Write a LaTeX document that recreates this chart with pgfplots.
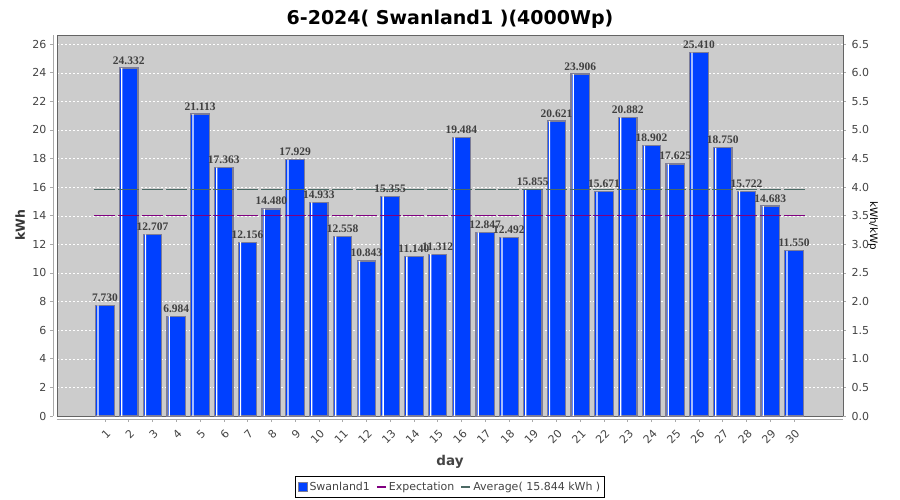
\documentclass[border=0pt]{standalone}
\usepackage{pgfplots}
\pgfplotsset{compat=1.18}
\usepackage{pgfplotstable}
\usepackage{fontspec}
\setmainfont{DejaVu Sans}
\newfontfamily\lblfont{Liberation Serif}

\definecolor{bg}{RGB}{204,204,204}
\definecolor{barblue}{RGB}{0,64,255}
\definecolor{barborder}{RGB}{125,125,150}
\definecolor{avgc}{RGB}{75,105,100}
\definecolor{expc}{RGB}{128,0,128}
\definecolor{tickc}{RGB}{68,68,68}
\definecolor{framec}{RGB}{100,100,100}
\definecolor{axc}{RGB}{170,170,170}
\definecolor{lblc}{RGB}{64,64,64}

\pgfplotstableread{
x y lab exp avg
1 7.730 7.730 14.0 15.844
2 24.332 24.332 14.0 15.844
3 12.707 12.707 14.0 15.844
4 6.984 6.984 14.0 15.844
5 21.113 21.113 14.0 15.844
6 17.363 17.363 14.0 15.844
7 12.156 12.156 14.0 15.844
8 14.480 14.480 14.0 15.844
9 17.929 17.929 14.0 15.844
10 14.933 14.933 14.0 15.844
11 12.558 12.558 14.0 15.844
12 10.843 10.843 14.0 15.844
13 15.355 15.355 14.0 15.844
14 11.140 11.140 14.0 15.844
15 11.312 11.312 14.0 15.844
16 19.484 19.484 14.0 15.844
17 12.847 12.847 14.0 15.844
18 12.492 12.492 14.0 15.844
19 15.855 15.855 14.0 15.844
20 20.621 20.621 14.0 15.844
21 23.906 23.906 14.0 15.844
22 15.671 15.671 14.0 15.844
23 20.882 20.882 14.0 15.844
24 18.902 18.902 14.0 15.844
25 17.625 17.625 14.0 15.844
26 25.410 25.410 14.0 15.844
27 18.750 18.750 14.0 15.844
28 15.722 15.722 14.0 15.844
29 14.683 14.683 14.0 15.844
30 11.550 11.550 14.0 15.844
}\daydata

\begin{document}
\begin{tikzpicture}[x=1pt,y=1pt]
\useasboundingbox (0,0) rectangle (900,500);
\begin{axis}[
  at={(57pt,84pt)}, anchor=south west,
  scale only axis, width=786pt, height=381pt,
  xmin=-1.02, xmax=32.06, ymin=0, ymax=26.64,
  axis background/.style={fill=bg},
  axis line style={framec, line width=0.8pt},
  xtick={1,...,30}, ytick={0,2,...,26},
  xtick pos=left, ytick pos=left,
  tick align=outside, major tick length=3pt,
  tick style={axc, line width=0.6pt},
  every y tick/.append style={xshift=-4pt},
  every x tick/.append style={yshift=-3pt},
  /pgf/number format/assume math mode=true,
  yticklabel style={xshift=-4pt, font=\fontsize{11}{13}\selectfont, text=tickc},
  xticklabel style={xshift=6pt, yshift=-10pt, rotate=45, anchor=east, font=\fontsize{11}{13}\selectfont, text=tickc},
  ymajorgrids, grid style={white, dash pattern=on 2pt off 2pt, line width=0.5pt},
  clip=false,
  title={6-2024( Swanland1 )(4000Wp)},
  title style={at={(axis description cs:0.5,1.026)}, anchor=center, font=\bfseries\fontsize{19}{22}\selectfont},
  xlabel={day},
  every axis x label/.style={at={(axis description cs:0.5,-0.12)}, anchor=center, font=\bfseries\fontsize{13.5}{15}\selectfont, text=tickc},
  ylabel={kWh},
  every axis y label/.style={at={(axis description cs:-0.047,0.5)}, anchor=center, rotate=90, font=\bfseries\fontsize{12.5}{15}\selectfont, text=tickc!80!black},
  legend style={at={(0.5,-0.1575)}, anchor=north, legend columns=-1, draw=black, line width=0.8pt,
    font=\fontsize{11}{13}\selectfont, text=tickc, inner xsep=2pt, inner ysep=3.5pt,
    /tikz/every even column/.append style={column sep=4pt}},
  legend cell align=left,
]
\addlegendimage{legend image code/.code={\draw[fill=barblue,draw=barborder,line width=0.8pt] (0pt,-4.5pt) rectangle (9pt,4.5pt);}}
\addlegendentry{Swanland1}
\addlegendimage{legend image code/.code={\draw[expc,line width=2pt] (0pt,0pt) -- (9pt,0pt);}}
\addlegendentry{Expectation}
\addlegendimage{legend image code/.code={\draw[avgc,line width=2pt] (0pt,0pt) -- (9pt,0pt);}}
\addlegendentry{Average( 15.844 kWh )}

\addplot[forget plot, only marks, mark=-, mark size=10.5pt, draw=expc, mark options={draw=expc, line width=1.3pt}] table[x=x,y=exp]{\daydata};
\addplot[forget plot, only marks, mark=-, mark size=10.5pt, draw=avgc, mark options={draw=avgc, line width=1.3pt}] table[x=x,y=avg]{\daydata};

\addplot[forget plot, ybar, bar width=18.5pt, bar shift=0pt, fill=barblue, draw=barborder, line width=1.2pt,
  nodes near coords, point meta=explicit symbolic,
  every node near coord/.append style={font=\lblfont\bfseries\fontsize{11.5}{12}\selectfont, text=lblc, anchor=base, inner sep=0pt, yshift=4pt}]
  table[x=x,y=y,meta=lab]{\daydata};
\addplot[forget plot, ybar, bar width=1.3pt, bar shift=-7pt, fill=white, draw=none] table[x=x,y=y]{\daydata};

\draw[axc, line width=0.8pt] ([xshift=-4pt]rel axis cs:0,0) -- ([xshift=-4pt]rel axis cs:0,1);
\draw[axc, line width=0.8pt] ([yshift=-3pt]rel axis cs:0,0) -- ([yshift=-3pt]rel axis cs:1,0);
\end{axis}

\begin{axis}[
  at={(57pt,84pt)}, anchor=south west,
  scale only axis, width=786pt, height=381pt,
  xmin=-1.02, xmax=32.06, ymin=0, ymax=6.66,
  axis x line=none, axis y line*=right,
  y axis line style={framec, line width=0.8pt, -},
  ytick={0,0.5,1,1.5,2,2.5,3,3.5,4,4.5,5,5.5,6,6.5},
  tick align=outside, major tick length=3pt,
  tick style={axc, line width=0.6pt},
  /pgf/number format/assume math mode=true,
  yticklabel style={/pgf/number format/.cd, fixed, fixed zerofill, precision=1, /tikz/.cd,
    xshift=2pt, font=\fontsize{11}{13}\selectfont, text=tickc},
  ylabel={kWh/kWp},
  every axis y label/.style={at={(axis description cs:1.038,0.5)}, anchor=center, rotate=-90, font=\fontsize{10.3}{12}\selectfont, text=black},
]
\addplot[draw=none, forget plot] coordinates {(1,0) (30,0)};
\end{axis}
\end{tikzpicture}
\end{document}
